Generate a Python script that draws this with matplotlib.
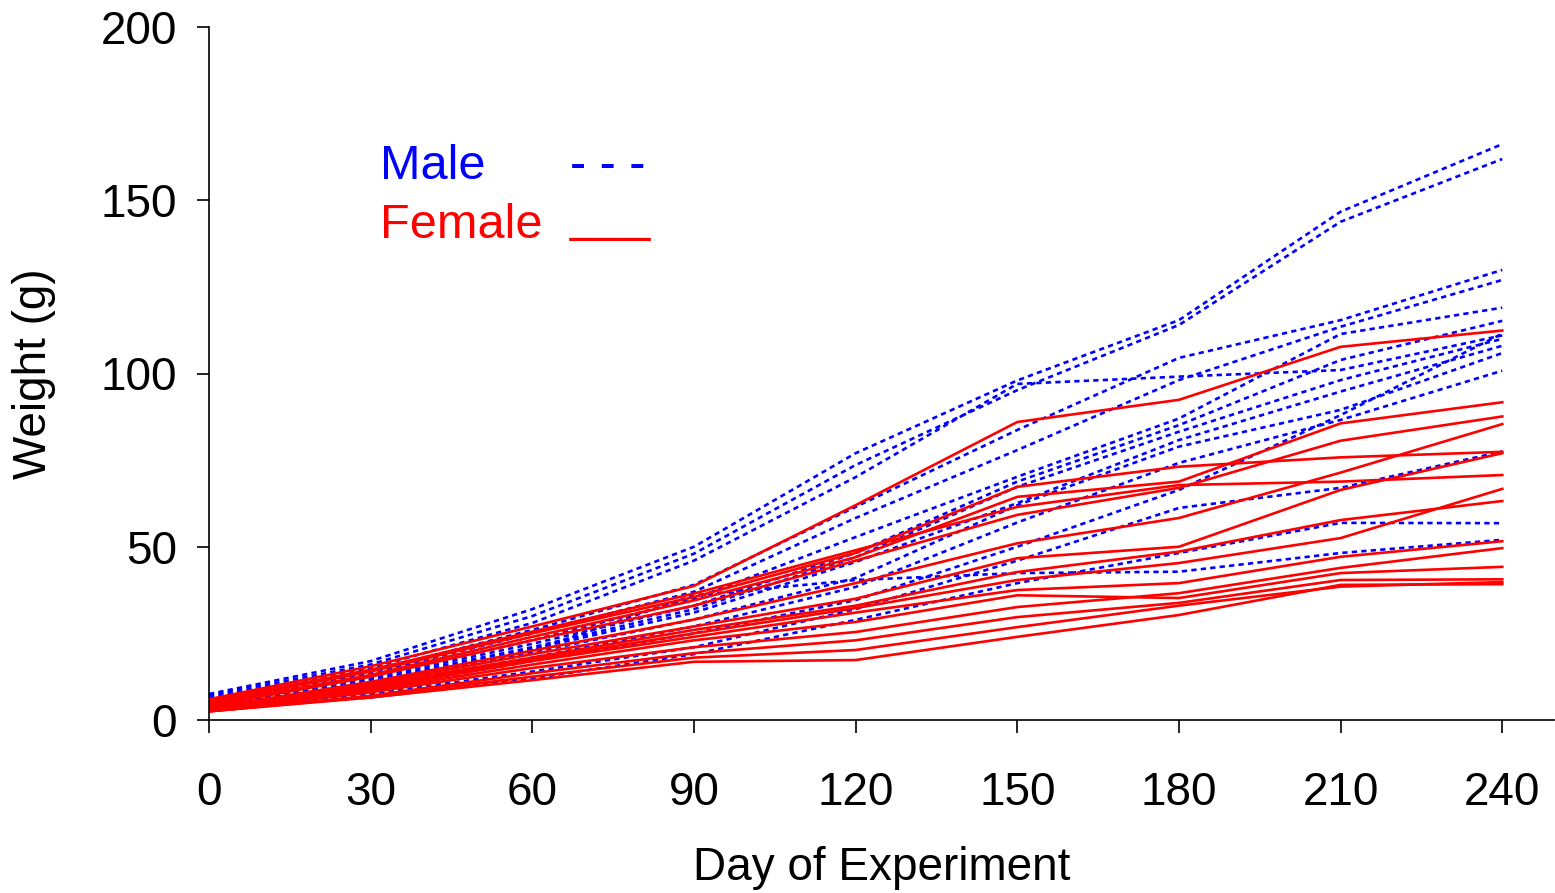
import matplotlib
matplotlib.use('Agg')
import matplotlib.pyplot as plt

plt.rcParams['font.family'] = ['Liberation Sans', 'DejaVu Sans']

days = [0, 30, 60, 90, 120, 150, 180, 210, 240]

# male weights (g), one list per animal
male_weights = [
    [7.5, 17.0, 32.0, 50.0, 77.0, 98.0, 115.4, 146.7, 166.2],
    [7.0, 16.0, 30.0, 48.0, 73.6, 95.2, 114.0, 143.8, 161.9],
    [6.5, 15.0, 28.0, 46.0, 70.1, 97.0, 99.1, 101.0, 111.0],
    [6.0, 14.0, 26.0, 39.0, 61.5, 83.7, 104.5, 115.4, 129.9],
    [5.5, 13.5, 25.0, 37.0, 58.3, 77.9, 98.1, 113.5, 127.0],
    [5.0, 12.5, 23.0, 35.0, 52.8, 70.2, 87.0, 111.4, 119.0],
    [5.0, 12.0, 22.0, 33.0, 48.2, 68.8, 85.1, 103.9, 115.2],
    [4.5, 11.5, 21.0, 32.0, 47.0, 67.3, 83.2, 98.1, 110.0],
    [4.5, 11.0, 20.5, 31.0, 45.6, 62.6, 80.8, 94.8, 108.0],
    [4.0, 10.5, 19.5, 29.0, 41.0, 62.0, 78.9, 89.5, 105.9],
    [4.0, 10.0, 18.0, 27.0, 38.4, 57.0, 74.2, 86.6, 100.8],
    [3.0, 7.5, 14.0, 21.0, 32.0, 46.0, 61.2, 67.0, 77.5],
    [3.0, 6.5, 12.0, 19.0, 28.9, 39.5, 48.2, 56.9, 56.8],
    [4.0, 10.0, 20.0, 36.0, 40.4, 42.4, 42.8, 48.2, 52.0],
    [3.5, 9.0, 17.0, 25.0, 34.6, 50.0, 66.4, 88.0, 111.5],
]

# female weights (g)
female_weights = [
    [6.0, 15.5, 27.0, 38.7, 62.0, 86.0, 92.4, 107.7, 112.4],
    [5.0, 14.0, 25.0, 35.5, 48.2, 67.3, 73.1, 75.8, 77.4],
    [4.5, 13.0, 24.0, 34.5, 47.0, 64.4, 68.8, 85.6, 91.7],
    [4.0, 12.5, 23.0, 33.0, 46.0, 59.2, 67.0, 80.6, 87.6],
    [5.5, 14.5, 25.5, 36.5, 49.0, 61.5, 67.8, 68.8, 70.7],
    [3.5, 11.0, 20.0, 29.0, 39.5, 51.0, 58.3, 71.4, 85.4],
    [3.5, 10.5, 19.0, 27.0, 35.0, 46.7, 50.0, 66.4, 77.0],
    [3.2, 10.0, 18.0, 26.0, 33.0, 42.7, 48.6, 57.7, 63.2],
    [3.0, 9.5, 17.5, 25.0, 32.3, 40.4, 45.3, 52.5, 66.7],
    [3.0, 9.0, 17.0, 24.0, 31.0, 37.5, 39.5, 47.1, 51.6],
    [2.8, 8.0, 15.0, 21.0, 25.4, 32.6, 36.6, 43.9, 49.6],
    [2.8, 8.5, 16.0, 23.0, 28.3, 36.0, 35.2, 42.4, 44.2],
    [2.5, 7.0, 13.5, 19.3, 23.0, 29.7, 33.8, 40.4, 40.6],
    [2.5, 6.5, 11.5, 16.8, 17.3, 24.0, 30.3, 39.0, 39.2],
    [2.5, 6.8, 12.5, 18.0, 20.2, 26.8, 33.0, 38.5, 39.8],
]

fig = plt.figure(figsize=(15.55, 8.93), dpi=100)
ax = fig.add_axes([209 / 1555, 173 / 893, 1345 / 1555, 693 / 893])

for w in male_weights:
    ax.plot(days, w, color='#0000ff', linewidth=1.9, linestyle=(0, (2, 1.6)))
for w in female_weights:
    ax.plot(days, w, color='#ff0000', linewidth=1.9)

ax.set_xlim(0, 249.6)
ax.set_ylim(0, 200)
ax.set_xticks(range(0, 241, 30))
ax.set_yticks(range(0, 201, 50))
ax.spines['top'].set_visible(False)
ax.spines['right'].set_visible(False)
for s in ['left', 'bottom']:
    ax.spines[s].set_linewidth(1.2)
ax.tick_params(axis='both', direction='out', length=9, width=1.2, labelsize=33)
ax.tick_params(axis='x', pad=28)
ax.tick_params(axis='y', pad=14)
ax.set_xlabel('Day of Experiment', fontsize=33, labelpad=22)
ax.set_ylabel('Weight (g)', fontsize=33, labelpad=32)

# legend typed as text
ax.text(31.7, 156.0, 'Male', color='#0000ff', fontsize=35, va='baseline')
ax.text(67.0, 156.0, '- - -', color='#0000ff', fontsize=35, va='baseline')
ax.text(31.7, 139.0, 'Female', color='#ff0000', fontsize=35, va='baseline')
ax.text(67.0, 141.0, '___', color='#ff0000', fontsize=35, va='baseline')

fig.savefig('out.png', dpi=100)
